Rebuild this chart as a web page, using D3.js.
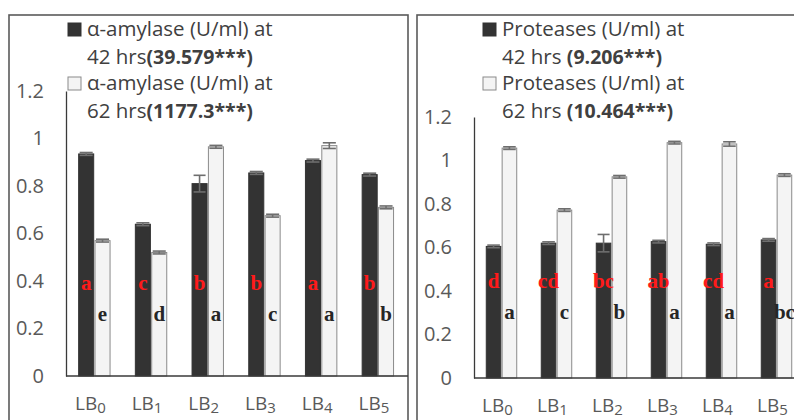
<!DOCTYPE html>
<html>
<head>
<meta charset="utf-8">
<script src="https://cdn.jsdelivr.net/npm/d3@7"></script>
<style>
  body { margin: 0; background: #fff; }
  svg { display: block; }
  .tick-label { font-family: "Open Sans", sans-serif; font-size: 20px; fill: #595959; }
  .cat-label { font-family: "Open Sans", sans-serif; font-size: 19px; fill: #595959; }
  .legend { font-family: "Open Sans", sans-serif; font-size: 20.5px; fill: #404040; }
  .letter { font-family: "Liberation Serif", serif; font-weight: bold; font-size: 21px; }
</style>
</head>
<body>
<svg id="chart" width="794" height="420"></svg>
<script>
// categories (subscript index of LB)
const categories = ["0", "1", "2", "3", "4", "5"];
const yTicks = [0, 0.2, 0.4, 0.6, 0.8, 1, 1.2];

// alpha-amylase panel
const amylase42 = [0.935, 0.639, 0.81, 0.855, 0.907, 0.848];
const amylase42Err = [0.006, 0.006, 0.035, 0.006, 0.006, 0.006];
const amylase62 = [0.57, 0.52, 0.965, 0.675, 0.97, 0.71];
const amylase62Err = [0.006, 0.006, 0.006, 0.006, 0.012, 0.006];
const amylaseLetters42 = ["a", "c", "b", "b", "a", "b"];
const amylaseLetters62 = ["e", "d", "a", "c", "a", "b"];
const amylaseLegend = [["α-amylase (U/ml) at", "42 hrs", "(39.579***)"], ["α-amylase (U/ml) at", "62 hrs", "(1177.3***)"]];

// proteases panel
const prot42 = [0.605, 0.62, 0.62, 0.627, 0.615, 0.635];
const prot42Err = [0.006, 0.006, 0.04, 0.006, 0.006, 0.006];
const prot62 = [1.057, 0.772, 0.925, 1.082, 1.076, 0.933];
const prot62Err = [0.006, 0.006, 0.006, 0.006, 0.01, 0.006];
const protLetters42 = ["d", "cd", "bc", "ab", "cd", "a"];
const protLetters62 = ["a", "c", "b", "a", "a", "bc"];
const protLegend = [["Proteases (U/ml) at", "42 hrs ", "(9.206***)"], ["Proteases (U/ml) at", "62 hrs ", "(10.464***)"]];

const svg = d3.select("#chart");

function drawPanel(cfg) {
    // frame box, slightly cut off by the window
    svg.append("rect")
        .attr("x", cfg.frameX).attr("y", 15)
        .attr("width", cfg.frameW).attr("height", 440)
        .attr("fill", "none").attr("stroke", "#5a5a5a").attr("stroke-width", 1.6);

    const clipId = "clip" + cfg.id;
    svg.append("clipPath").attr("id", clipId)
        .append("rect").attr("x", cfg.frameX).attr("y", 15)
        .attr("width", cfg.frameW).attr("height", 440);

    const g = svg.append("g").attr("clip-path", `url(#${clipId})`);

    const x0 = d3.scaleBand().domain(categories)
        .range([cfg.left, cfg.left + cfg.step * categories.length])
        .paddingInner(0.4).paddingOuter(0.2);
    const x1 = d3.scaleBand().domain(["42", "62"])
        .range([0, x0.bandwidth()]).padding(0.08);
    const y = d3.scaleLinear().domain([0, 1.2]).range([cfg.bottom, cfg.top]);

    const rows = categories.map((c, i) => ({
        cat: c,
        bars: [
            {key: "42", v: cfg.v42[i], e: cfg.e42[i], letter: cfg.l42[i]},
            {key: "62", v: cfg.v62[i], e: cfg.e62[i], letter: cfg.l62[i]}
        ]
    }));

    const grp = g.selectAll(".grp").data(rows).enter().append("g")
        .attr("transform", d => `translate(${x0(d.cat)},0)`);

    grp.selectAll("rect").data(d => d.bars).enter().append("rect")
        .attr("x", d => x1(d.key))
        .attr("y", d => y(d.v))
        .attr("width", x1.bandwidth())
        .attr("height", d => y(0) - y(d.v))
        .attr("fill", d => d.key === "42" ? "#333333" : "#f4f4f4")
        .attr("stroke", d => d.key === "42" ? "#333333" : "#8a8a8a")
        .attr("stroke-width", 1);

    // error bars
    const err = grp.selectAll(".err").data(d => d.bars).enter().append("g")
        .attr("transform", d => `translate(${x1(d.key) + x1.bandwidth() / 2},0)`)
        .attr("stroke", "#6e6e6e").attr("stroke-width", 1.6);
    err.append("line")
        .attr("y1", d => y(d.v + d.e)).attr("y2", d => y(d.v - d.e));
    err.append("line")
        .attr("x1", d => d.e > 0.02 ? -6 : -x1.bandwidth() / 2 + 1)
        .attr("x2", d => d.e > 0.02 ? 6 : x1.bandwidth() / 2 - 1)
        .attr("y1", d => y(d.v + d.e)).attr("y2", d => y(d.v + d.e));
    err.append("line")
        .attr("x1", d => d.e > 0.02 ? -6 : -x1.bandwidth() / 2 + 1)
        .attr("x2", d => d.e > 0.02 ? 6 : x1.bandwidth() / 2 - 1)
        .attr("y1", d => y(d.v - d.e)).attr("y2", d => y(d.v - d.e));

    // significance letters
    grp.selectAll(".letter").data(d => d.bars).enter().append("text")
        .attr("class", "letter")
        .attr("x", d => x1(d.key) + x1.bandwidth() / 2)
        .attr("y", d => y(d.key === "42" ? cfg.redAt : cfg.blackAt) + 5)
        .attr("text-anchor", "middle")
        .attr("fill", d => d.key === "42" ? "#ff1a1a" : "#262626")
        .text(d => d.letter);

    // y axis
    const yAxis = d3.axisLeft(y).tickValues(yTicks).tickSize(0).tickPadding(22)
        .tickFormat(d3.format("~g"));
    const yg = g.append("g").attr("transform", `translate(${cfg.left},0)`).call(yAxis);
    yg.select(".domain").attr("stroke", "#3a3a3a").attr("stroke-width", 1.3);
    yg.selectAll(".tick text").attr("class", "tick-label").attr("font-size", null)
        .attr("font-family", null).attr("fill", null);

    // x axis baseline + labels
    const xAxis = d3.axisBottom(x0).tickSize(0).tickSizeOuter(0).tickPadding(0);
    const xg = g.append("g").attr("transform", `translate(0,${y(0)})`).call(xAxis);
    xg.select(".domain").attr("d", `M${cfg.left},0H${cfg.left + 400}`)
        .attr("stroke", "#3a3a3a").attr("stroke-width", 1.3);
    xg.selectAll(".tick text").each(function(d) {
        const t = d3.select(this).text(null)
            .attr("class", "cat-label").attr("font-size", null)
            .attr("font-family", null).attr("fill", null)
            .attr("dy", null).attr("y", 34).attr("dx", -4);
        t.append("tspan").text("LB");
        t.append("tspan").attr("dy", 3).attr("font-size", 15).text(d);
    });

    // legend
    const lg = svg.append("g").attr("class", "legend");
    cfg.legend.forEach((item, i) => {
        const base = i === 0 ? 36 : 90;
        lg.append("rect")
            .attr("x", cfg.legendX).attr("y", base - 13)
            .attr("width", 13).attr("height", 13)
            .attr("fill", i === 0 ? "#333333" : "#f4f4f4")
            .attr("stroke", i === 0 ? "#333333" : "#8a8a8a");
        lg.append("text").attr("x", cfg.legendX + 19).attr("y", base).text(item[0]);
        const t2 = lg.append("text").attr("x", cfg.legendX + 19).attr("y", base + 28);
        t2.append("tspan").text(item[1]);
        t2.append("tspan").attr("font-weight", "bold").attr("font-size", 19.5).text(item[2]);
    });
}

drawPanel({
    id: "a", frameX: 9, frameW: 399, left: 66, step: 56.7, top: 91, bottom: 376,
    v42: amylase42, e42: amylase42Err, v62: amylase62, e62: amylase62Err,
    l42: amylaseLetters42, l62: amylaseLetters62, redAt: 0.383, blackAt: 0.253,
    legend: amylaseLegend, legendX: 68
});

drawPanel({
    id: "p", frameX: 417, frameW: 400, left: 474, step: 55, top: 117, bottom: 378,
    v42: prot42, e42: prot42Err, v62: prot62, e62: prot62Err,
    l42: protLetters42, l62: protLetters62, redAt: 0.437, blackAt: 0.294,
    legend: protLegend, legendX: 483
});
</script>
</body>
</html>
